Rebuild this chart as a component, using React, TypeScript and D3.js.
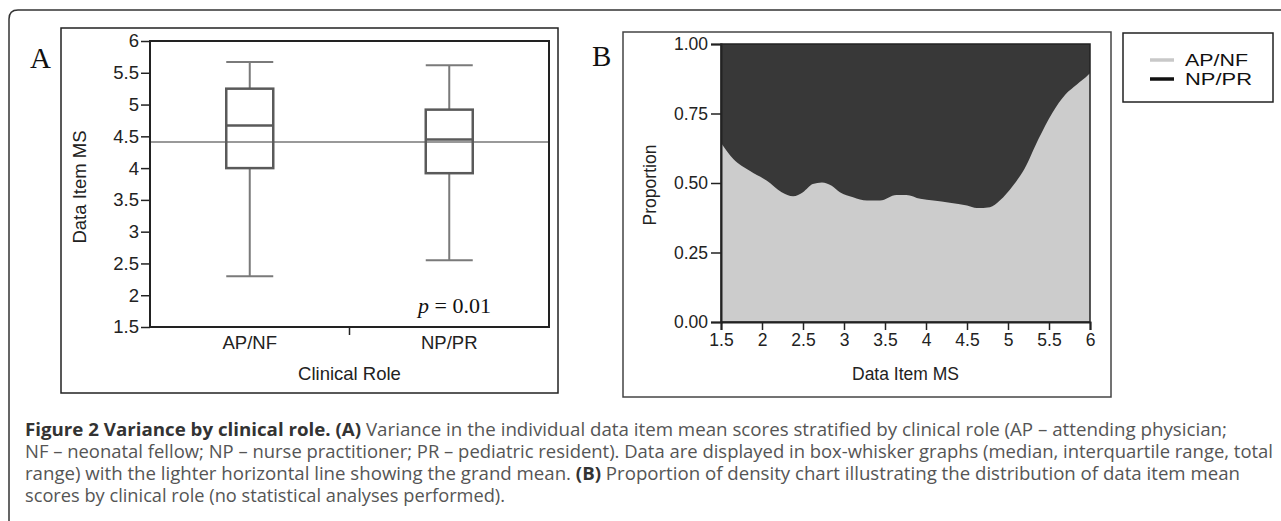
import React, { useRef, useEffect } from "react";
import * as d3 from "d3";

// Panel A: box-whisker summary per clinical role
const roles = ["AP/NF", "NP/PR"];
const whiskerLow = [2.3, 2.55];
const quartile1 = [4.0, 3.92];
const medians = [4.67, 4.45];
const quartile3 = [5.25, 4.92];
const whiskerHigh = [5.67, 5.62];
const grandMean = 4.41;
const boxTicks = [1.5, 2, 2.5, 3, 3.5, 4, 4.5, 5, 5.5, 6];

// Panel B: proportion of density (AP/NF share, rest is NP/PR)
const densityX = [1.5, 1.65, 1.85, 2.06, 2.24, 2.38, 2.5, 2.62, 2.73, 2.85, 2.95, 3.11, 3.28, 3.44, 3.64, 3.76, 3.93, 4.09, 4.29, 4.5, 4.62, 4.78, 4.9, 5.06, 5.2, 5.37, 5.54, 5.7, 5.84, 5.98, 6.0];
const apnfShare = [0.645, 0.586, 0.544, 0.508, 0.467, 0.452, 0.467, 0.496, 0.502, 0.49, 0.467, 0.449, 0.437, 0.437, 0.457, 0.457, 0.443, 0.437, 0.429, 0.419, 0.41, 0.413, 0.437, 0.49, 0.55, 0.657, 0.752, 0.818, 0.854, 0.889, 0.895];
const propTicks = [0, 0.25, 0.5, 0.75, 1];
const msTicks = [1.5, 2, 2.5, 3, 3.5, 4, 4.5, 5, 5.5, 6];

const legendNames = ["AP/NF", "NP/PR"];
const legendColours = ["#c8c8c8", "#111"];

const FONT = "Liberation Sans, Arial, sans-serif";

const App = () => {
  const svgRef = useRef(null);

  useEffect(() => {
    const svg = d3.select(svgRef.current);
    svg.selectAll("*").remove();

    // outer figure frame (open on the right)
    svg.append("path")
      .attr("d", "M 1290 10 L 18 10 Q 9 10 9 19 L 9 530")
      .attr("fill", "none")
      .attr("stroke", "#333")
      .attr("stroke-width", 1.5);

    drawPanelA(svg);
    drawPanelB(svg);
    drawCaption(svg);
  }, []);

  return (
    <svg ref={svgRef} width={1281} height={521}
      style={{ position: "absolute", left: 0, top: 0, background: "#fff" }} />
  );
};

export default App;

// Helper Functions
const drawPanelA = (svg) => {
  const left = 150, right = 549, top = 41, bottom = 327;

  svg.append("rect")
    .attr("x", 61).attr("y", 28).attr("width", 497).attr("height", 365)
    .attr("fill", "none").attr("stroke", "#222").attr("stroke-width", 1.5);

  svg.append("text")
    .attr("x", 30).attr("y", 68)
    .attr("font-family", "Liberation Serif, Times New Roman, serif")
    .attr("font-size", 29)
    .attr("fill", "#111")
    .text("A");

  const y = d3.scaleLinear().domain([1.5, 6]).range([bottom, top]);
  const x = d3.scaleBand().domain(roles).range([left, right]);

  const g = svg.append("g");

  // grand mean line
  g.append("line")
    .attr("x1", left).attr("x2", right)
    .attr("y1", y(grandMean)).attr("y2", y(grandMean))
    .attr("stroke", "#999").attr("stroke-width", 2);

  const boxW = 47;
  roles.forEach((r, i) => {
    const cx = x(r) + x.bandwidth() / 2;
    const whisk = g.append("g").attr("stroke", "#7a7a7a").attr("stroke-width", 2);
    whisk.append("line").attr("x1", cx).attr("x2", cx).attr("y1", y(whiskerHigh[i])).attr("y2", y(quartile3[i]));
    whisk.append("line").attr("x1", cx).attr("x2", cx).attr("y1", y(quartile1[i])).attr("y2", y(whiskerLow[i]));
    whisk.append("line").attr("x1", cx - boxW / 2).attr("x2", cx + boxW / 2).attr("y1", y(whiskerHigh[i])).attr("y2", y(whiskerHigh[i]));
    whisk.append("line").attr("x1", cx - boxW / 2).attr("x2", cx + boxW / 2).attr("y1", y(whiskerLow[i])).attr("y2", y(whiskerLow[i]));

    g.append("rect")
      .attr("x", cx - boxW / 2).attr("y", y(quartile3[i]))
      .attr("width", boxW).attr("height", y(quartile1[i]) - y(quartile3[i]))
      .attr("fill", "none").attr("stroke", "#5a5a5a").attr("stroke-width", 2.5);
    g.append("line")
      .attr("x1", cx - boxW / 2).attr("x2", cx + boxW / 2)
      .attr("y1", y(medians[i])).attr("y2", y(medians[i]))
      .attr("stroke", "#5a5a5a").attr("stroke-width", 2.5);
  });

  // plot frame
  svg.append("rect")
    .attr("x", left).attr("y", top).attr("width", right - left).attr("height", bottom - top)
    .attr("fill", "none").attr("stroke", "#222").attr("stroke-width", 2);

  // y axis
  const yAxis = d3.axisLeft(y).tickValues(boxTicks).tickFormat(d3.format("~g")).tickSize(9).tickPadding(2);
  const yG = svg.append("g").attr("transform", `translate(${left},0)`).call(yAxis);
  yG.select(".domain").remove();
  yG.selectAll("line").attr("stroke", "#222").attr("stroke-width", 1.5);
  yG.selectAll("text").attr("font-family", FONT).attr("font-size", 18.5).attr("fill", "#222");

  // x axis: one divider tick between categories
  svg.append("line")
    .attr("x1", x("NP/PR")).attr("x2", x("NP/PR"))
    .attr("y1", bottom).attr("y2", bottom + 8)
    .attr("stroke", "#222").attr("stroke-width", 1.5);
  roles.forEach((r) => {
    svg.append("text")
      .attr("x", x(r) + x.bandwidth() / 2).attr("y", bottom + 22)
      .attr("text-anchor", "middle")
      .attr("font-family", FONT).attr("font-size", 18.5).attr("fill", "#222")
      .text(r);
  });

  svg.append("text")
    .attr("x", (left + right) / 2).attr("y", 380)
    .attr("text-anchor", "middle")
    .attr("font-family", FONT).attr("font-size", 18.5).attr("fill", "#222")
    .text("Clinical Role");

  svg.append("text")
    .attr("transform", `translate(79, 187) rotate(-90)`)
    .attr("text-anchor", "middle").attr("dominant-baseline", "central")
    .attr("font-family", FONT).attr("font-size", 18.5).attr("fill", "#222")
    .text("Data Item MS");

  const p = svg.append("text")
    .attr("x", 418).attr("y", 313)
    .attr("font-family", "Liberation Serif, Times New Roman, serif")
    .attr("font-size", 22).attr("fill", "#111");
  p.append("tspan").attr("font-style", "italic").text("p");
  p.append("tspan").text(" = 0.01");
};

const drawPanelB = (svg) => {
  const left = 721, right = 1090, top = 44, bottom = 322;

  svg.append("rect")
    .attr("x", 623).attr("y", 32).attr("width", 488).attr("height", 365)
    .attr("fill", "none").attr("stroke", "#444").attr("stroke-width", 1.5);

  svg.append("text")
    .attr("x", 592).attr("y", 66)
    .attr("font-family", "Liberation Serif, Times New Roman, serif")
    .attr("font-size", 29)
    .attr("fill", "#111")
    .text("B");

  const x = d3.scaleLinear().domain([1.5, 6]).range([left, right]);
  const y = d3.scaleLinear().domain([0, 1]).range([bottom, top]);

  // NP/PR fills the remainder above
  svg.append("rect")
    .attr("x", left).attr("y", top).attr("width", right - left).attr("height", bottom - top)
    .attr("fill", "#383838");

  const area = d3.area()
    .x((_, i) => x(densityX[i]))
    .y0(y(0))
    .y1((d) => y(d))
    .curve(d3.curveMonotoneX);

  svg.append("path")
    .datum(apnfShare)
    .attr("d", area)
    .attr("fill", "#cccccc");

  svg.append("rect")
    .attr("x", left).attr("y", top).attr("width", right - left).attr("height", bottom - top)
    .attr("fill", "none").attr("stroke", "#222").attr("stroke-width", 1.5);

  const yAxis = d3.axisLeft(y).tickValues(propTicks).tickFormat(d3.format(".2f")).tickSize(10).tickPadding(3);
  const yG = svg.append("g").attr("transform", `translate(${left},0)`).call(yAxis);
  yG.select(".domain").attr("stroke", "#222").attr("stroke-width", 2);
  yG.selectAll("line").attr("stroke", "#222").attr("stroke-width", 1.5);
  yG.selectAll("text").attr("font-family", FONT).attr("font-size", 17.5).attr("fill", "#222");

  const xAxis = d3.axisBottom(x).tickValues(msTicks).tickFormat(d3.format("~g")).tickSize(8).tickPadding(4);
  const xG = svg.append("g").attr("transform", `translate(0,${bottom})`).call(xAxis);
  xG.select(".domain").attr("stroke", "#222").attr("stroke-width", 2);
  xG.selectAll("line").attr("stroke", "#222").attr("stroke-width", 1.5);
  xG.selectAll("text").attr("font-family", FONT).attr("font-size", 17.5).attr("fill", "#222");

  svg.append("text")
    .attr("x", (left + right) / 2).attr("y", 380)
    .attr("text-anchor", "middle")
    .attr("font-family", FONT).attr("font-size", 17.5).attr("fill", "#222")
    .text("Data Item MS");

  svg.append("text")
    .attr("transform", `translate(650, 185) rotate(-90)`)
    .attr("text-anchor", "middle").attr("dominant-baseline", "central")
    .attr("font-family", FONT).attr("font-size", 17.5).attr("fill", "#222")
    .text("Proportion");

  // legend
  svg.append("rect")
    .attr("x", 1123).attr("y", 33).attr("width", 150).attr("height", 69)
    .attr("fill", "#fff").attr("stroke", "#222").attr("stroke-width", 1.5);
  const legendWidths = [63, 67];
  legendNames.forEach((n, i) => {
    const ly = 60 + i * 19;
    svg.append("line")
      .attr("x1", 1150).attr("x2", 1174).attr("y1", ly).attr("y2", ly)
      .attr("stroke", legendColours[i]).attr("stroke-width", 3.5);
    svg.append("text")
      .attr("x", 1185).attr("y", ly).attr("dominant-baseline", "central")
      .attr("font-family", FONT).attr("font-size", 16)
      .attr("textLength", legendWidths[i]).attr("lengthAdjust", "spacingAndGlyphs")
      .attr("fill", "#111")
      .text(n);
  });
};

const captionLines = [
  [["Figure 2 Variance by clinical role. (A)", true], [" Variance in the individual data item mean scores stratified by clinical role (AP – attending physician;", false]],
  [["NF – neonatal fellow; NP – nurse practitioner; PR – pediatric resident). Data are displayed in box-whisker graphs (median, interquartile range, total", false]],
  [["range) with the lighter horizontal line showing the grand mean. ", false], ["(B)", true], [" Proportion of density chart illustrating the distribution of data item mean", false]],
  [["scores by clinical role (no statistical analyses performed).", false]],
];
const captionWidths = [1202, 1248, 1215, 480];

const drawCaption = (svg) => {
  captionLines.forEach((parts, i) => {
    const t = svg.append("text")
      .attr("x", 25).attr("y", 436 + i * 22)
      .attr("font-family", "Open Sans, sans-serif")
      .attr("font-size", 17.5)
      .attr("textLength", captionWidths[i])
      .attr("lengthAdjust", "spacingAndGlyphs")
      .attr("fill", "#555");
    parts.forEach(([s, bold]) => {
      t.append("tspan")
        .attr("font-weight", bold ? "bold" : "normal")
        .attr("fill", bold ? "#333" : "#555")
        .text(s);
    });
  });
};
